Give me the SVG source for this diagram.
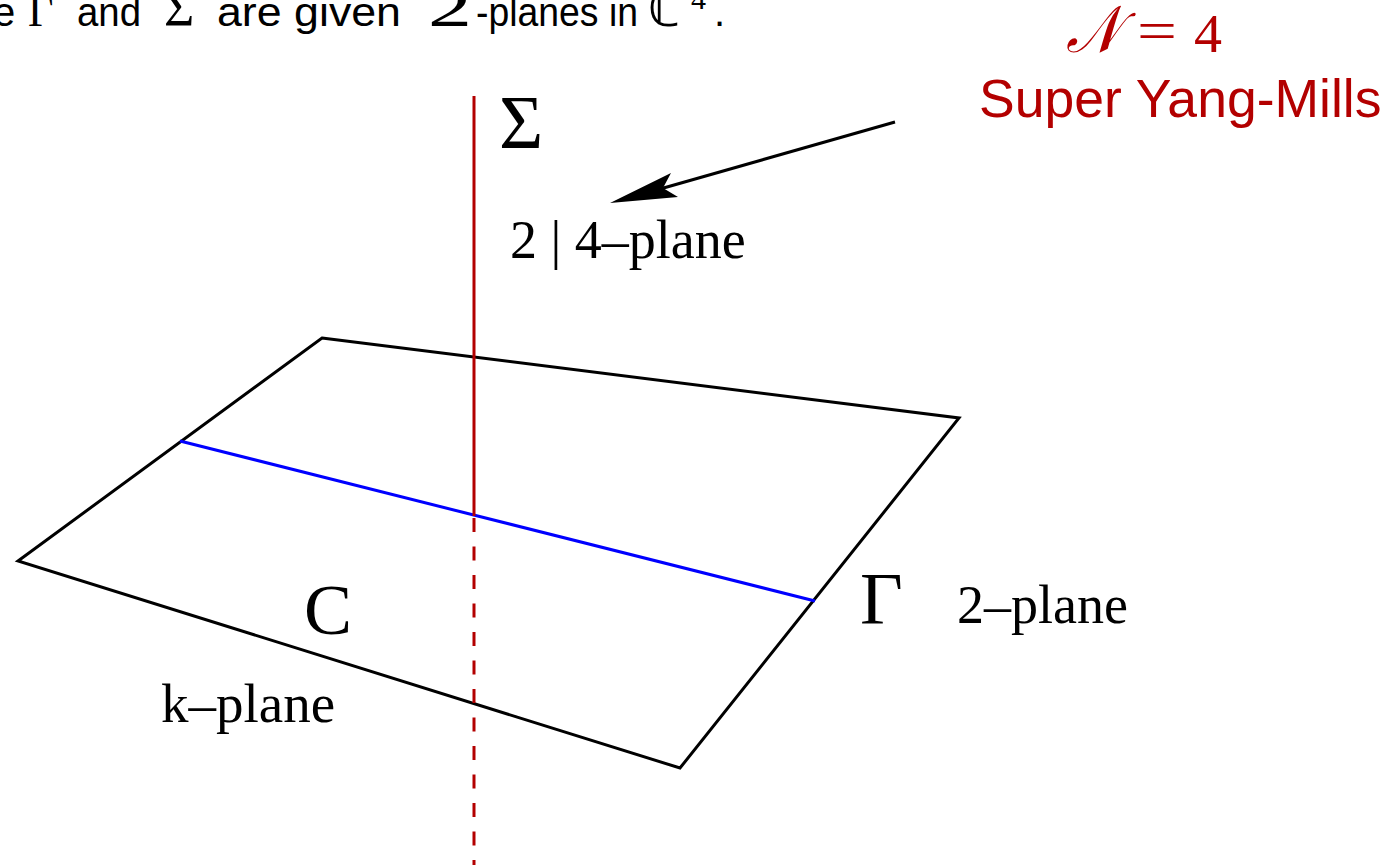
<svg xmlns="http://www.w3.org/2000/svg" width="1388" height="865" viewBox="0 0 1388 865">
<style>
.sans{font-family:"Liberation Sans",Arial,sans-serif;}
.serif{font-family:"Liberation Serif","Times New Roman",serif;}
.red{fill:#b30000;}
.edge{fill:none;stroke:#000;stroke-width:3;stroke-linejoin:miter;}
</style>
<rect width="1388" height="865" fill="#fff"/>
<g id="caption" font-size="40">
<text class="sans" x="-7" y="26">e</text>
<text class="serif" x="28" y="26" font-size="44">Γ</text>
<text class="sans" x="77" y="26" textLength="64" lengthAdjust="spacingAndGlyphs">and</text>
<text class="serif" x="164" y="26" font-size="52">Σ</text>
<text class="sans" x="217" y="26" textLength="184" lengthAdjust="spacingAndGlyphs">are given</text>
<text class="serif" x="428" y="26" font-size="54" textLength="44" lengthAdjust="spacingAndGlyphs">2</text>
<text class="sans" x="476" y="26" textLength="162" lengthAdjust="spacingAndGlyphs">-planes in</text>
<text class="serif" x="648" y="26" font-size="52">ℂ</text>
<text class="serif" x="691" y="9" font-size="30">4</text>
<text class="sans" x="714" y="26">.</text>
</g>
<g id="plane-C">
<polygon class="edge" points="322,338 959,418 680,768 18,561"/>
<text class="serif" x="304" y="634" font-size="72">C</text>
<text class="serif" x="161" y="722" font-size="55">k–plane</text>
</g>
<g id="curve-Gamma">
<line x1="180" y1="441" x2="815" y2="601" stroke="#0000ff" stroke-width="3"/>
<text class="serif" x="860" y="624" font-size="74">Γ</text>
<text class="serif" x="957" y="623" font-size="54">2–plane</text>
</g>
<g id="plane-Sigma">
<line x1="474" y1="96" x2="474" y2="516" stroke="#b30000" stroke-width="3"/>
<line x1="474" y1="518" x2="474" y2="865" stroke="#b30000" stroke-width="3" stroke-dasharray="14 14.5"/>
<text class="serif" x="499" y="148" font-size="76">Σ</text>
<text class="serif" x="510" y="258" font-size="54">2 | 4–plane</text>
</g>
<g id="label-SYM">
<text class="serif red" x="1066" y="52" font-size="66" font-style="italic" textLength="54" lengthAdjust="spacingAndGlyphs">𝒩</text>
<text class="serif red" x="1137" y="50" font-size="56" textLength="40" lengthAdjust="spacingAndGlyphs">=</text>
<text class="serif red" x="1194" y="52" font-size="54" textLength="28" lengthAdjust="spacingAndGlyphs">4</text>
<text class="sans red" x="979" y="117" font-size="53.5">Super Yang-Mills</text>
</g>
<g id="connectors">
<line x1="895" y1="122" x2="660" y2="189" stroke="#000" stroke-width="3"/>
<polygon points="610,203 671,173 663,188 678,197" fill="#000"/>
</g>
</svg>
